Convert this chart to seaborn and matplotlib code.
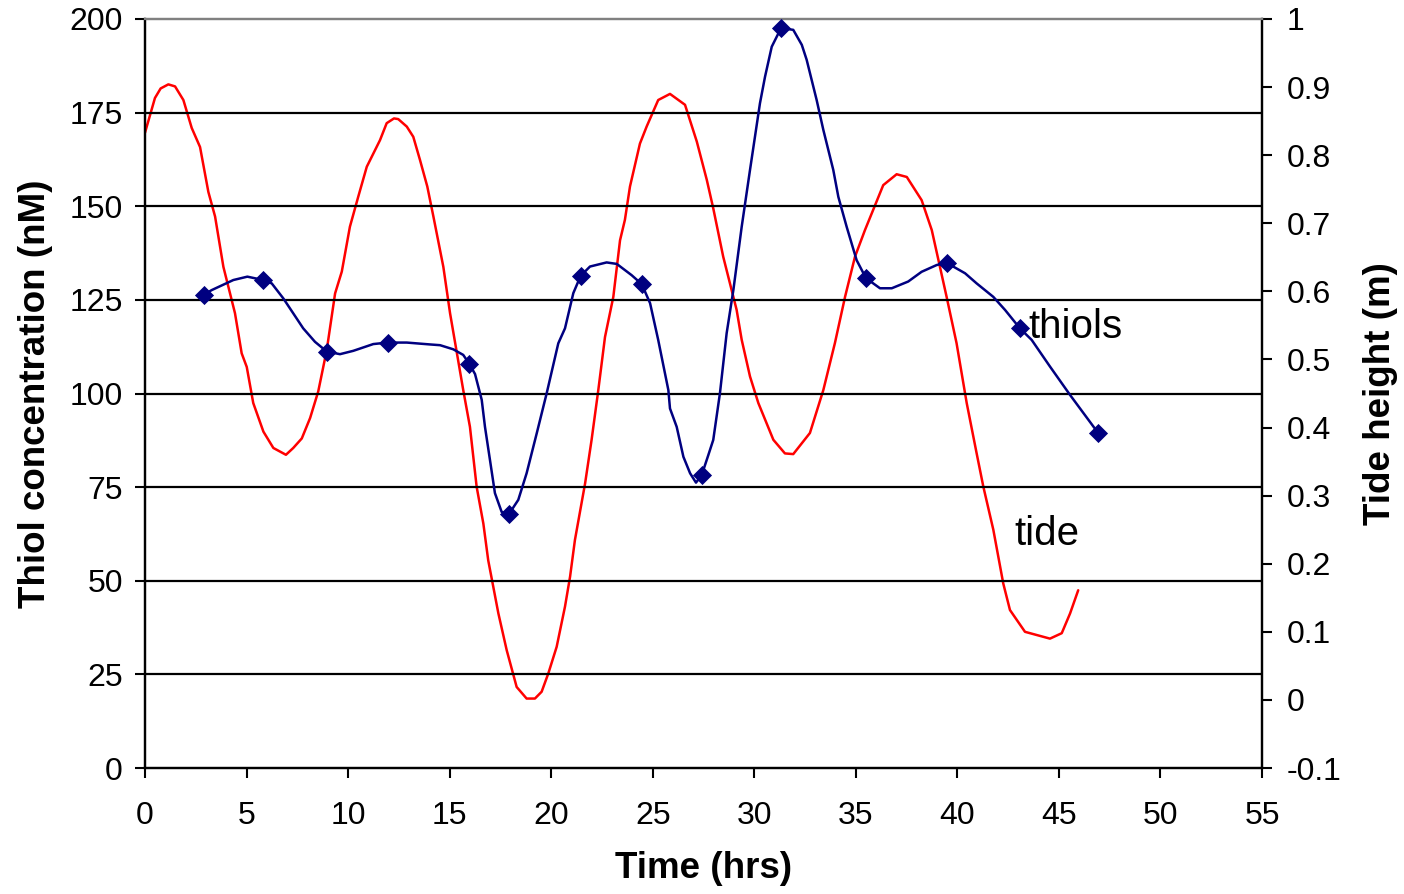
import matplotlib
matplotlib.use("Agg")
import matplotlib.pyplot as plt
import seaborn as sns
import pandas as pd

# ---- data ----
# thiol measurements (markers)
thiol_time = [2.9, 5.8, 8.95, 11.95, 15.97, 17.92, 21.45, 24.46, 27.41, 31.32, 35.5, 39.47, 43.08, 46.94]
thiol_conc = [126.3, 130.3, 111.2, 113.6, 107.9, 67.8, 131.4, 129.2, 78.2, 197.6, 130.8, 134.9, 117.4, 89.4]

# thiol trace as drawn (smoothed line)
thiol_line_time = [2.87, 3.28, 4.35, 5.04, 5.82, 6.24, 6.81, 7.30, 7.79, 8.37, 8.95, 9.60, 10.26, 11.24,
                   11.95, 12.89, 14.03, 14.53, 15.18, 15.67, 15.97, 16.25, 16.58, 16.74, 16.99, 17.23,
                   17.56, 17.92, 18.38, 18.79, 19.29, 19.78, 20.35, 20.68, 21.09, 21.45, 21.91, 22.73,
                   23.23, 23.96, 24.46, 24.87, 25.27, 25.77, 25.85, 26.18, 26.51, 26.84, 27.13, 27.41,
                   27.74, 27.98, 28.31, 28.64, 28.97, 29.38, 29.79, 30.28, 30.53, 30.86, 31.32, 31.92,
                   32.34, 32.58, 33.07, 33.40, 33.89, 34.14, 34.55, 35.04, 35.50, 36.19, 36.77, 37.58,
                   38.24, 38.98, 39.47, 40.38, 40.95, 41.77, 42.35, 43.08, 43.66, 44.56, 45.55, 46.94]
thiol_line_conc = [126.3, 127.6, 130.3, 131.2, 130.3, 129.4, 125.4, 121.4, 117.4, 113.8, 111.2, 110.5, 111.4, 113.2,
                   113.6, 113.6, 113.1, 112.9, 111.8, 110.3, 107.9, 105.2, 98.3, 91.1, 82.1, 73.4,
                   68.4, 67.8, 71.6, 78.7, 89.4, 100.1, 113.4, 117.4, 126.8, 131.4, 133.9, 135.0,
                   134.6, 131.6, 129.2, 124.1, 114.3, 100.9, 96.0, 91.1, 83.1, 78.7, 76.2, 78.2,
                   83.6, 87.6, 100.1, 116.1, 127.6, 144.5, 159.7, 177.5, 184.6, 192.6, 197.6, 197.1,
                   193.1, 189.1, 178.4, 170.4, 159.7, 152.5, 144.5, 135.6, 130.8, 128.1, 128.1, 129.9,
                   132.5, 134.3, 134.9, 132.1, 129.4, 125.8, 122.3, 117.4, 114.3, 107.2, 99.6, 89.4]

# tide height (m)
tide_time = [0.0, 0.49, 0.77, 1.15, 1.48, 1.89, 2.30, 2.71, 3.12, 3.45, 3.86, 4.43, 4.76, 5.01, 5.33,
             5.83, 6.32, 6.94, 7.30, 7.72, 8.13, 8.53, 8.95, 9.36, 9.69, 10.09, 10.50, 10.92, 11.57,
             11.90, 12.26, 12.47, 12.89, 13.21, 13.54, 13.90, 14.20, 14.69, 15.02, 15.67, 16.00,
             16.33, 16.66, 16.90, 17.40, 17.81, 18.30, 18.79, 19.20, 19.53, 19.86, 20.27, 20.68,
             20.93, 21.17, 21.67, 21.99, 22.32, 22.65, 23.06, 23.39, 23.63, 23.88, 24.37, 24.70,
             25.27, 25.85, 26.59, 27.17, 27.66, 27.98, 28.47, 29.13, 29.38, 29.79, 30.20, 30.94,
             31.51, 31.92, 32.74, 33.40, 33.97, 34.47, 34.96, 35.45, 36.35, 37.01, 37.51, 38.24,
             38.74, 39.47, 39.96, 40.46, 40.95, 41.28, 41.77, 42.26, 42.59, 43.33, 44.56, 45.14,
             45.55, 45.95]
tide_height = [0.833, 0.884, 0.898, 0.904, 0.901, 0.881, 0.840, 0.812, 0.746, 0.710, 0.636, 0.568, 0.509, 0.489, 0.436,
               0.394, 0.370, 0.360, 0.370, 0.384, 0.414, 0.453, 0.514, 0.597, 0.629, 0.695, 0.739, 0.783, 0.822,
               0.847, 0.854, 0.853, 0.842, 0.827, 0.793, 0.754, 0.710, 0.636, 0.568, 0.455, 0.401,
               0.313, 0.259, 0.205, 0.127, 0.073, 0.019, 0.002, 0.002, 0.012, 0.039, 0.078, 0.137,
               0.181, 0.235, 0.318, 0.382, 0.455, 0.533, 0.592, 0.675, 0.705, 0.754, 0.817, 0.842,
               0.881, 0.890, 0.874, 0.820, 0.764, 0.722, 0.651, 0.573, 0.529, 0.475, 0.436, 0.382,
               0.362, 0.361, 0.392, 0.455, 0.524, 0.592, 0.651, 0.690, 0.756, 0.772, 0.768, 0.734,
               0.690, 0.592, 0.524, 0.436, 0.362, 0.313, 0.250, 0.171, 0.132, 0.100, 0.090, 0.098,
               0.127, 0.161]

x_ticks = list(range(0, 56, 5))
left_ticks = list(range(0, 201, 25))
right_ticks = [-0.1, 0, 0.1, 0.2, 0.3, 0.4, 0.5, 0.6, 0.7, 0.8, 0.9, 1]
right_tick_labels = ["-0.1", "0", "0.1", "0.2", "0.3", "0.4", "0.5", "0.6", "0.7", "0.8", "0.9", "1"]

# ---- plotting ----
sns.set_style("white")
plt.rcParams["font.family"] = ["Liberation Sans", "DejaVu Sans"]
plt.rcParams["text.color"] = "black"
plt.rcParams["axes.labelcolor"] = "black"
plt.rcParams["xtick.color"] = "black"
plt.rcParams["ytick.color"] = "black"

fig = plt.figure(figsize=(14.04, 8.94), dpi=100)
ax = fig.add_axes([145 / 1404, 1 - 768 / 894, (1262 - 145) / 1404, (768 - 19) / 894])
ax2 = ax.twinx()

navy = "#000080"
red = "#FF0000"

# grid lines on left-axis ticks
for v in left_ticks[1:-1]:
    ax.axhline(v, color="black", lw=1.6, zorder=0.5)

df_tide = pd.DataFrame({"t": tide_time, "h": tide_height})
sns.lineplot(data=df_tide, x="t", y="h", ax=ax2, color=red, lw=1.8, sort=False, estimator=None)

df_line = pd.DataFrame({"t": thiol_line_time, "c": thiol_line_conc})
sns.lineplot(data=df_line, x="t", y="c", ax=ax, color=navy, lw=1.8, sort=False, estimator=None)
df_pts = pd.DataFrame({"t": thiol_time, "c": thiol_conc})
sns.scatterplot(data=df_pts, x="t", y="c", ax=ax, color=navy, marker="D", s=95,
                edgecolor=navy, linewidth=0, zorder=5)

ax.set_zorder(ax2.get_zorder() + 1)
ax.patch.set_visible(False)

ax.set_xlim(0, 55)
ax.set_ylim(0, 200)
ax2.set_ylim(-0.1, 1.0)
ax.set_xticks(x_ticks)
ax.set_yticks(left_ticks)
ax2.set_yticks(right_ticks)
ax2.set_yticklabels(right_tick_labels)

ax.set_xlabel("Time (hrs)", fontsize=26.5, fontweight="bold", labelpad=14, color="black")
ax.set_ylabel("Thiol concentration (nM)", fontsize=26.5, fontweight="bold", labelpad=12, color="black")
ax2.set_ylabel("Tide height (m)", fontsize=26.5, fontweight="bold", labelpad=15, color="black")

for a in (ax, ax2):
    for side in ("left", "right", "bottom"):
        a.spines[side].set_color("black")
        a.spines[side].set_linewidth(1.6)
    a.spines["top"].set_color("#808080")
    a.spines["top"].set_linewidth(1.6)

ax.tick_params(axis="both", direction="out", length=7, width=1.5, labelsize=23,
               colors="black", labelcolor="black")
ax.tick_params(axis="y", pad=9, left=True, right=False)
ax.tick_params(axis="x", pad=17, bottom=True)
ax2.tick_params(axis="y", direction="out", length=7, width=1.5, labelsize=23, pad=11,
                right=True, colors="black", labelcolor="black")

ax.text(43.5, 114.8, "thiols", fontsize=29, va="baseline", ha="left", zorder=6, color="black")
ax.text(42.8, 59.5, "tide", fontsize=29, va="baseline", ha="left", zorder=6, color="black")

fig.savefig("out.png", dpi=100)
